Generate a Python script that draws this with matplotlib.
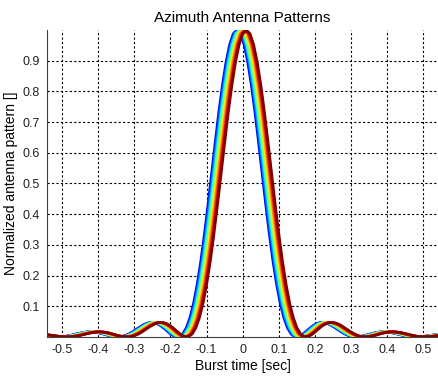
import numpy as np
import matplotlib.pyplot as plt

plt.rcParams['font.family'] = ['Liberation Sans', 'DejaVu Sans']
plt.rcParams['axes.unicode_minus'] = False

# normalized azimuth pattern (one side, symmetric), t in sec
t_half = [0.00, 0.01, 0.02, 0.03, 0.04, 0.05, 0.06, 0.07, 0.08, 0.09,
          0.10, 0.11, 0.12, 0.13, 0.14, 0.15, 0.16, 0.17, 0.18, 0.19,
          0.20, 0.21, 0.22, 0.23, 0.24, 0.25, 0.26, 0.27, 0.28, 0.29,
          0.30, 0.31, 0.32, 0.33, 0.34, 0.35, 0.36, 0.37, 0.38, 0.39,
          0.40, 0.41, 0.42, 0.43, 0.44, 0.45, 0.46, 0.47, 0.48, 0.49,
          0.50, 0.51, 0.52, 0.53, 0.54, 0.55, 0.56, 0.57, 0.58]
p_half = [1.000, 0.988, 0.953, 0.896, 0.821, 0.733, 0.634, 0.532, 0.430, 0.334,
          0.246, 0.171, 0.109, 0.0624, 0.0296, 0.0097, 0.0010, 0.0009, 0.0068, 0.0160,
          0.0264, 0.0357, 0.0427, 0.0465, 0.0469, 0.0440, 0.0385, 0.0313, 0.0234, 0.0156,
          0.0090, 0.0040, 0.0010, 0.0000, 0.0009, 0.0031, 0.0062, 0.0096, 0.0127, 0.0150,
          0.0163, 0.0164, 0.0153, 0.0133, 0.0107, 0.0078, 0.0050, 0.0026, 0.0009, 0.0001,
          0.0001, 0.0008, 0.0021, 0.0038, 0.0054, 0.0068, 0.0079, 0.0083, 0.0082]

# beam centre offsets of the individual patterns (blue -> red)
shifts = [-0.016, -0.014, -0.012, -0.010, -0.008, -0.006, -0.004,
          -0.002, 0.000, 0.002, 0.004, 0.006, 0.008, 0.010]

t = np.concatenate([-np.array(t_half[:0:-1]), np.array(t_half)])
p = np.concatenate([np.array(p_half[:0:-1]), np.array(p_half)])

fig = plt.figure(figsize=(4.39, 3.76), dpi=100)
ax = fig.add_axes([0.107, 0.104, 0.891, 0.816])

cmap = plt.get_cmap('jet')
for i, s in enumerate(shifts):
    ax.plot(t + s, p, color=cmap(0.1 + 0.9 * i / (len(shifts) - 1)), lw=2.0)

ax.set_xlim(-0.542, 0.541)
ax.set_ylim(0, 1)
ax.set_xticks([-0.5, -0.4, -0.3, -0.2, -0.1, 0, 0.1, 0.2, 0.3, 0.4, 0.5])
ax.set_xticklabels(['-0.5', '-0.4', '-0.3', '-0.2', '-0.1', '0', '0.1', '0.2', '0.3', '0.4', '0.5'])
ax.set_yticks([0.1, 0.2, 0.3, 0.4, 0.5, 0.6, 0.7, 0.8, 0.9])
ax.grid(True, color='black', linestyle=(0, (2, 2)), linewidth=0.8)
ax.tick_params(length=0, labelsize=9, pad=5, labelcolor='#222222')
ax.spines['top'].set_visible(False)
ax.spines['right'].set_visible(False)
ax.spines['left'].set_color('#404040')
ax.spines['bottom'].set_color('#404040')

ax.set_title('Azimuth Antenna Patterns', fontsize=11, pad=6)
ax.set_xlabel('Burst time [sec]', fontsize=10, labelpad=2)
ax.set_ylabel('Normalized antenna pattern []', fontsize=10, labelpad=3)

plt.savefig('out.png', dpi=100)
